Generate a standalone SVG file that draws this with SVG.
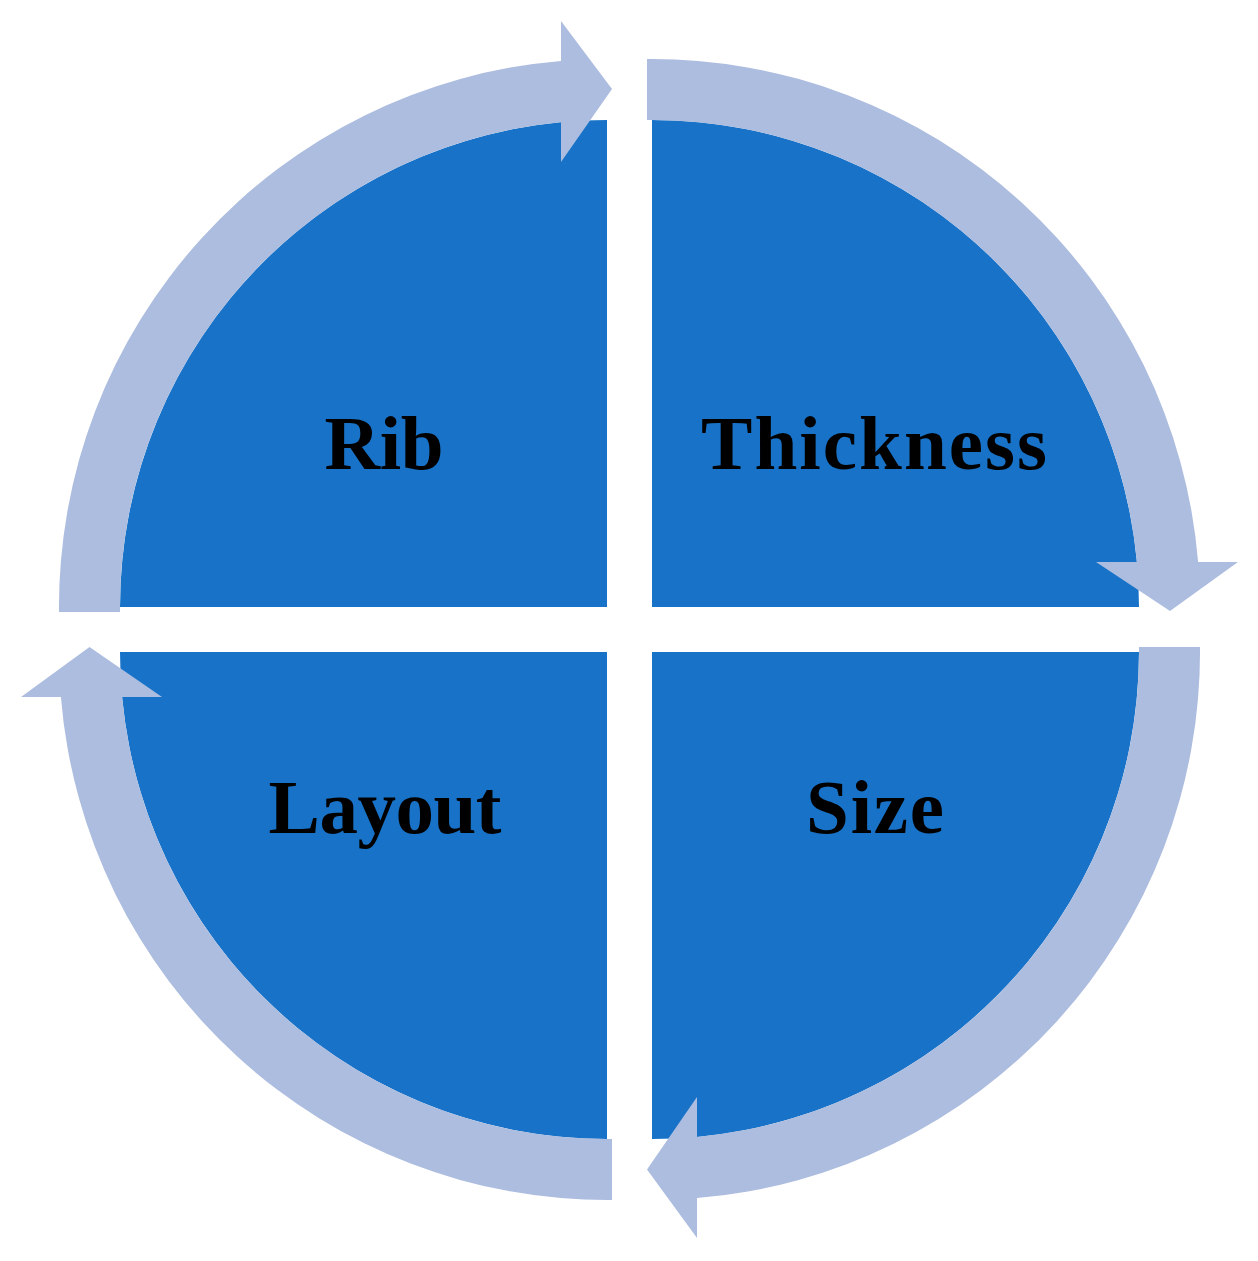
<svg xmlns="http://www.w3.org/2000/svg" width="1258" height="1261" viewBox="0 0 1258 1261">
<style>
.sector{fill:#1873C8;}
.arrow{fill:#ADBDDF;}
.label{font-family:"Liberation Serif","Times New Roman",serif;font-weight:bold;font-size:77px;fill:#000;text-anchor:middle;}
</style>
<rect width="1258" height="1261" fill="#fff"/>
<g id="node-rib">
<path class="sector" d="M607,607 L120,607 A487,487 0 0 1 607,120 Z"/>
<text class="label" x="384" y="469" textLength="119" lengthAdjust="spacing">Rib</text>
</g>
<g id="node-thickness">
<path class="sector" d="M652,607 L652,120 A487,487 0 0 1 1139,607 Z"/>
<text class="label" x="874" y="469" textLength="346" lengthAdjust="spacing">Thickness</text>
</g>
<g id="node-size">
<path class="sector" d="M652,652 L1139,652 A487,487 0 0 1 652,1139 Z"/>
<text class="label" x="875" y="833" textLength="138" lengthAdjust="spacing">Size</text>
</g>
<g id="node-layout">
<path class="sector" d="M607,652 L607,1139 A487,487 0 0 1 120,652 Z"/>
<text class="label" x="385" y="833" textLength="233" lengthAdjust="spacing">Layout</text>
</g>
<g id="connectors">
<path class="arrow" d="M59,612 A548,548 0 0 1 561,60.9 L561,21 L612,89 L561,162 L561,122.2 A487,487 0 0 0 120,612 Z"/>
<path class="arrow" d="M647,59 A548,548 0 0 1 1198.1,562 L1238,562 L1170,611 L1096,562 L1136.9,562 A487,487 0 0 0 647,120 Z"/>
<path class="arrow" d="M1200,647 A548,548 0 0 1 697,1198.1 L697,1238 L647,1169.5 L697,1097 L697,1136.9 A487,487 0 0 0 1139,647 Z"/>
<path class="arrow" d="M612,1200 A548,548 0 0 1 60.9,697 L21,697 L89.5,647 L162,697 L122.1,697 A487,487 0 0 0 612,1139 Z"/>
</g>
</svg>
